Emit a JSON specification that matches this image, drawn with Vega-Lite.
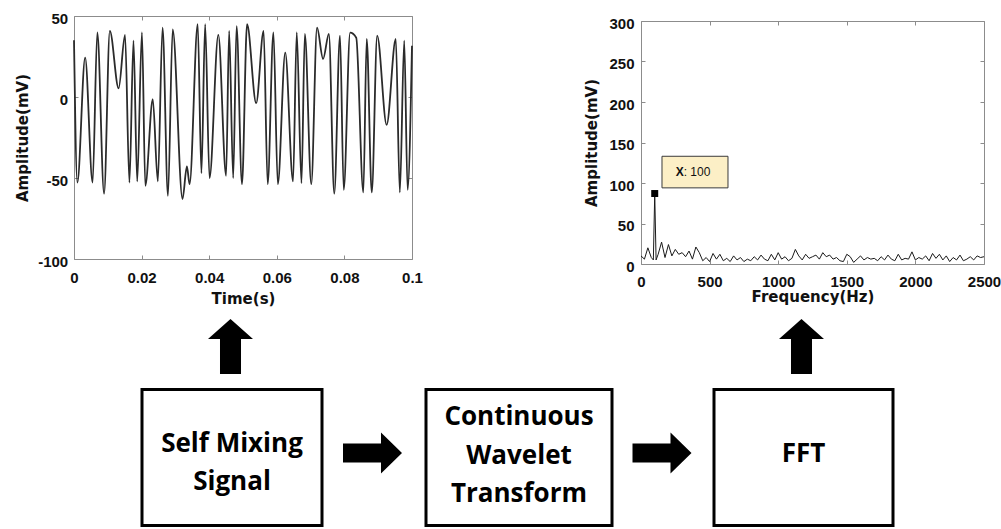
{
  "$schema": "https://vega.github.io/schema/vega-lite/v6.json",
  "background": "white",
  "padding": {"left": 14, "top": 10, "right": 0, "bottom": 0},
  "autosize": {"type": "pad"},
  "config": {
    "view": {"stroke": "#8c8c8c", "strokeWidth": 1},
    "axis": {
      "labelFont": "Liberation Sans", "labelFontWeight": "bold", "labelFontSize": 15, "labelColor": "#111111",
      "titleFont": "DejaVu Sans", "titleFontWeight": "bold", "titleFontSize": 15, "titleColor": "#111111",
      "tickColor": "#8c8c8c", "tickSize": -4, "tickWidth": 1, "domain": false, "grid": false, "labelFlush": false
    }
  },
  "datasets": {
    "signal": [
      {"t": 0, "v": 35}, {"t": 0.001, "v": -52.8}, {"t": 0.0033, "v": 24.3}, {"t": 0.0055, "v": -52.8},
      {"t": 0.0069, "v": 39.9}, {"t": 0.0089, "v": -59.7}, {"t": 0.0106, "v": 40.8}, {"t": 0.0132, "v": 5.4},
      {"t": 0.0151, "v": 38.3}, {"t": 0.0164, "v": -52.8}, {"t": 0.0176, "v": 34.8}, {"t": 0.0187, "v": -52.1},
      {"t": 0.0201, "v": 39.9}, {"t": 0.0211, "v": -54.8}, {"t": 0.0233, "v": -1.4}, {"t": 0.0248, "v": -52.1},
      {"t": 0.0262, "v": 42.8}, {"t": 0.0278, "v": -61}, {"t": 0.0292, "v": 41.8}, {"t": 0.0321, "v": -63},
      {"t": 0.0334, "v": -42.9}, {"t": 0.0342, "v": -53.8}, {"t": 0.0366, "v": 44.9}, {"t": 0.0377, "v": -47},
      {"t": 0.0388, "v": 44.9}, {"t": 0.0401, "v": -50}, {"t": 0.0427, "v": 38.3}, {"t": 0.045, "v": -48.6},
      {"t": 0.0459, "v": 40.8}, {"t": 0.0471, "v": -50}, {"t": 0.0481, "v": 43.8}, {"t": 0.0497, "v": -53.8},
      {"t": 0.0512, "v": 44.9}, {"t": 0.0539, "v": -3.8}, {"t": 0.0561, "v": 40.8}, {"t": 0.0573, "v": -53.8},
      {"t": 0.059, "v": 39.9}, {"t": 0.0603, "v": -53.8}, {"t": 0.0625, "v": 27.4}, {"t": 0.0648, "v": -52.1},
      {"t": 0.0659, "v": 39.9}, {"t": 0.0673, "v": -53.2}, {"t": 0.0683, "v": 38.9}, {"t": 0.0702, "v": -53.8},
      {"t": 0.0719, "v": 42.8}, {"t": 0.0737, "v": 23.5}, {"t": 0.0754, "v": 38.9}, {"t": 0.077, "v": -59.7},
      {"t": 0.0787, "v": 37.9}, {"t": 0.0798, "v": -57.3}, {"t": 0.0817, "v": 39.7}, {"t": 0.0835, "v": 36.6},
      {"t": 0.0856, "v": -58.9}, {"t": 0.0866, "v": 35.8}, {"t": 0.0881, "v": -58.9}, {"t": 0.0897, "v": 37.9},
      {"t": 0.0925, "v": -17.2}, {"t": 0.0952, "v": 35.8}, {"t": 0.0964, "v": -58.9}, {"t": 0.0977, "v": 34.8},
      {"t": 0.0987, "v": -57.3}, {"t": 0.1, "v": 31.7}
    ],
    "fft": [
      {"f": 0, "a": 10}, {"f": 25, "a": 6}, {"f": 50, "a": 20}, {"f": 75, "a": 8}, {"f": 90, "a": 5},
      {"f": 100, "a": 87}, {"f": 110, "a": 5}, {"f": 125, "a": 12}, {"f": 150, "a": 27}, {"f": 175, "a": 8},
      {"f": 200, "a": 24}, {"f": 225, "a": 10}, {"f": 250, "a": 18}, {"f": 275, "a": 12}, {"f": 300, "a": 14},
      {"f": 325, "a": 9}, {"f": 350, "a": 16}, {"f": 375, "a": 6}, {"f": 400, "a": 21}, {"f": 425, "a": 14},
      {"f": 450, "a": 4}, {"f": 475, "a": 8}, {"f": 500, "a": 3}, {"f": 525, "a": 13}, {"f": 550, "a": 6},
      {"f": 575, "a": 12}, {"f": 600, "a": 4}, {"f": 625, "a": 7}, {"f": 650, "a": 3}, {"f": 675, "a": 10},
      {"f": 700, "a": 5}, {"f": 725, "a": 8}, {"f": 750, "a": 3}, {"f": 775, "a": 6}, {"f": 800, "a": 4},
      {"f": 825, "a": 9}, {"f": 850, "a": 5}, {"f": 875, "a": 11}, {"f": 900, "a": 6}, {"f": 925, "a": 4},
      {"f": 950, "a": 12}, {"f": 975, "a": 5}, {"f": 1000, "a": 14}, {"f": 1025, "a": 6}, {"f": 1050, "a": 9},
      {"f": 1075, "a": 4}, {"f": 1100, "a": 7}, {"f": 1125, "a": 18}, {"f": 1150, "a": 10}, {"f": 1175, "a": 5},
      {"f": 1200, "a": 12}, {"f": 1225, "a": 7}, {"f": 1250, "a": 9}, {"f": 1275, "a": 11}, {"f": 1300, "a": 6},
      {"f": 1325, "a": 14}, {"f": 1350, "a": 9}, {"f": 1375, "a": 11}, {"f": 1400, "a": 6}, {"f": 1425, "a": 8},
      {"f": 1450, "a": 4}, {"f": 1475, "a": 3}, {"f": 1500, "a": 12}, {"f": 1525, "a": 9}, {"f": 1550, "a": 2},
      {"f": 1575, "a": 6}, {"f": 1600, "a": 10}, {"f": 1625, "a": 5}, {"f": 1650, "a": 8}, {"f": 1675, "a": 6},
      {"f": 1700, "a": 7}, {"f": 1725, "a": 4}, {"f": 1750, "a": 9}, {"f": 1775, "a": 5}, {"f": 1800, "a": 11},
      {"f": 1825, "a": 6}, {"f": 1850, "a": 4}, {"f": 1875, "a": 12}, {"f": 1900, "a": 5}, {"f": 1925, "a": 7},
      {"f": 1950, "a": 6}, {"f": 1975, "a": 15}, {"f": 2000, "a": 5}, {"f": 2025, "a": 8}, {"f": 2050, "a": 6},
      {"f": 2075, "a": 10}, {"f": 2100, "a": 4}, {"f": 2125, "a": 13}, {"f": 2150, "a": 7}, {"f": 2175, "a": 12},
      {"f": 2200, "a": 5}, {"f": 2225, "a": 10}, {"f": 2250, "a": 3}, {"f": 2275, "a": 8}, {"f": 2300, "a": 5},
      {"f": 2325, "a": 11}, {"f": 2350, "a": 4}, {"f": 2375, "a": 6}, {"f": 2400, "a": 9}, {"f": 2425, "a": 5},
      {"f": 2450, "a": 10}, {"f": 2475, "a": 8}, {"f": 2500, "a": 9}
    ],
    "peak": [{"f": 100, "a": 87}],
    "tip": [{"f0": 153, "f1": 634, "a0": 94, "a1": 133, "tx": 311, "ty": 113, "key": "X", "val": ": 100"}],
    "boxes": [
      {"x0": 141, "x1": 321, "y0": 390, "y1": 526},
      {"x0": 425, "x1": 611, "y0": 390, "y1": 526},
      {"x0": 713, "x1": 892, "y0": 390, "y1": 526}
    ],
    "arrows": [
      {"x": 229.5, "y": 347, "dir": "up"},
      {"x": 800.5, "y": 347, "dir": "up"},
      {"x": 371.5, "y": 453.5, "dir": "right"},
      {"x": 661, "y": 453.5, "dir": "right"}
    ],
    "labels": [
      {"x": 231, "y": 452, "label": "Self Mixing"},
      {"x": 231, "y": 490, "label": "Signal"},
      {"x": 518, "y": 425, "label": "Continuous"},
      {"x": 518, "y": 464, "label": "Wavelet"},
      {"x": 518, "y": 502, "label": "Transform"},
      {"x": 802.5, "y": 462, "label": "FFT"}
    ]
  },
  "bounds": "full",
  "spacing": 0,
  "vconcat": [
    {
      "bounds": "flush",
      "spacing": 229,
      "hconcat": [
        {
          "width": 338,
          "height": 243,
          "data": {"name": "signal"},
          "resolve": {"axis": {"x": "independent", "y": "independent"}},
          "layer": [
            {
              "mark": {"type": "line", "interpolate": "monotone", "color": "#2b2b2b", "strokeWidth": 1.8},
              "encoding": {
                "x": {"field": "t", "type": "quantitative", "scale": {"domain": [0, 0.1], "nice": false, "zero": false},
                  "axis": {"orient": "bottom", "title": "Time(s)", "values": [0, 0.02, 0.04, 0.06, 0.08, 0.1], "format": "~g",
                    "labelPadding": 15.5, "titleY": 44, "titleBaseline": "alphabetic"}},
                "y": {"field": "v", "type": "quantitative", "scale": {"domain": [-100, 50], "nice": false, "zero": false},
                  "axis": {"orient": "left", "title": "Amplitude(mV)", "values": [-100, -50, 0, 50],
                    "labelExpr": "replace(format(datum.value, '~g'), '\u2212', '-')",
                    "labelPadding": 10.3, "labelOffset": 2, "titleX": -52, "titleBaseline": "middle"}}
              }
            },
            {
              "mark": {"type": "line", "opacity": 0},
              "encoding": {
                "x": {"field": "t", "type": "quantitative", "axis": {"orient": "top", "labels": false, "title": null, "values": [0, 0.02, 0.04, 0.06, 0.08, 0.1]}},
                "y": {"field": "v", "type": "quantitative", "axis": {"orient": "right", "labels": false, "title": null, "values": [-100, -50, 0, 50]}}
              }
            }
          ]
        },
        {
          "bounds": "flush",
          "spacing": 4,
          "vconcat": [
            {"width": 343, "height": 1, "view": {"stroke": null}, "data": {"values": []}, "mark": "point", "encoding": {}},
            {
              "width": 343,
              "height": 243,
              "resolve": {"axis": {"x": "independent", "y": "independent"}},
              "layer": [
                {
                  "data": {"name": "fft"},
                  "mark": {"type": "line", "color": "#1a1a1a", "strokeWidth": 1},
                  "encoding": {
                    "x": {"field": "f", "type": "quantitative", "scale": {"domain": [0, 2500], "nice": false, "zero": false},
                      "axis": {"orient": "bottom", "title": "Frequency(Hz)", "values": [0, 500, 1000, 1500, 2000, 2500], "format": "d",
                        "labelPadding": 14, "titleY": 37, "titleBaseline": "alphabetic"}},
                    "y": {"field": "a", "type": "quantitative", "scale": {"domain": [0, 300], "nice": false, "zero": false},
                      "axis": {"orient": "left", "title": "Amplitude(mV)", "values": [0, 50, 100, 150, 200, 250, 300], "format": "d",
                        "labelPadding": 11, "labelOffset": 2, "titleX": -50, "titleBaseline": "middle"}}
                  }
                },
                {
                  "data": {"name": "fft"},
                  "mark": {"type": "line", "opacity": 0},
                  "encoding": {
                    "x": {"field": "f", "type": "quantitative", "axis": {"orient": "top", "labels": false, "title": null, "values": [0, 500, 1000, 1500, 2000, 2500]}},
                    "y": {"field": "a", "type": "quantitative", "axis": {"orient": "right", "labels": false, "title": null, "values": [0, 50, 100, 150, 200, 250, 300]}}
                  }
                },
                {
                  "data": {"name": "peak"},
                  "mark": {"type": "square", "size": 49, "color": "black", "filled": true, "opacity": 1},
                  "encoding": {
                    "x": {"field": "f", "type": "quantitative", "axis": null},
                    "y": {"field": "a", "type": "quantitative", "axis": null}
                  }
                },
                {
                  "data": {"name": "tip"},
                  "mark": {"type": "rect", "fill": "#fcefc6", "stroke": "#3a3a3a", "strokeWidth": 1},
                  "encoding": {
                    "x": {"field": "f0", "type": "quantitative", "axis": null},
                    "x2": {"field": "f1"},
                    "y": {"field": "a0", "type": "quantitative", "axis": null},
                    "y2": {"field": "a1"}
                  }
                },
                {
                  "data": {"name": "tip"},
                  "mark": {"type": "text", "align": "right", "baseline": "middle", "font": "Liberation Sans", "fontWeight": "bold", "fontSize": 12, "color": "#111111"},
                  "encoding": {
                    "x": {"field": "tx", "type": "quantitative", "axis": null},
                    "y": {"field": "ty", "type": "quantitative", "axis": null},
                    "text": {"field": "key"}
                  }
                },
                {
                  "data": {"name": "tip"},
                  "mark": {"type": "text", "align": "left", "baseline": "middle", "font": "Liberation Sans", "fontSize": 12, "color": "#111111"},
                  "encoding": {
                    "x": {"field": "tx", "type": "quantitative", "axis": null},
                    "y": {"field": "ty", "type": "quantitative", "axis": null},
                    "text": {"field": "val"}
                  }
                }
              ]
            }
          ]
        }
      ]
    },
    {
      "width": 928,
      "height": 222,
      "view": {"stroke": null},
      "layer": [
        {
          "data": {"name": "boxes"},
          "mark": {"type": "rect", "fill": "white", "stroke": "black", "strokeWidth": 3},
          "encoding": {
            "x": {"field": "x0", "type": "quantitative", "scale": {"domain": [73, 1001], "nice": false, "zero": false}, "axis": null},
            "x2": {"field": "x1"},
            "y": {"field": "y0", "type": "quantitative", "scale": {"domain": [300, 529], "range": [-7.5, 221.5], "nice": false, "zero": false}, "axis": null},
            "y2": {"field": "y1"}
          }
        },
        {
          "data": {"name": "arrows"},
          "transform": [{"filter": "datum.dir === 'up'"}],
          "mark": {"type": "point", "shape": "M0,-1L0.818,-0.273L0.382,-0.273L0.382,1L-0.382,1L-0.382,-0.273L-0.818,-0.273Z", "size": 3025, "filled": true, "color": "black", "opacity": 1},
          "encoding": {
            "x": {"field": "x", "type": "quantitative", "axis": null},
            "y": {"field": "y", "type": "quantitative", "axis": null}
          }
        },
        {
          "data": {"name": "arrows"},
          "transform": [{"filter": "datum.dir === 'right'"}],
          "mark": {"type": "point", "shape": "M1,0L0.288,0.695L0.288,0.32L-1,0.32L-1,-0.32L0.288,-0.32L0.288,-0.695Z", "size": 3481, "filled": true, "color": "black", "opacity": 1},
          "encoding": {
            "x": {"field": "x", "type": "quantitative", "axis": null},
            "y": {"field": "y", "type": "quantitative", "axis": null}
          }
        },
        {
          "data": {"name": "labels"},
          "mark": {"type": "text", "font": "Open Sans", "fontWeight": "bold", "fontSize": 26, "baseline": "alphabetic", "align": "center", "color": "black"},
          "encoding": {
            "x": {"field": "x", "type": "quantitative", "axis": null},
            "y": {"field": "y", "type": "quantitative", "axis": null},
            "text": {"field": "label"}
          }
        }
      ]
    }
  ]
}
